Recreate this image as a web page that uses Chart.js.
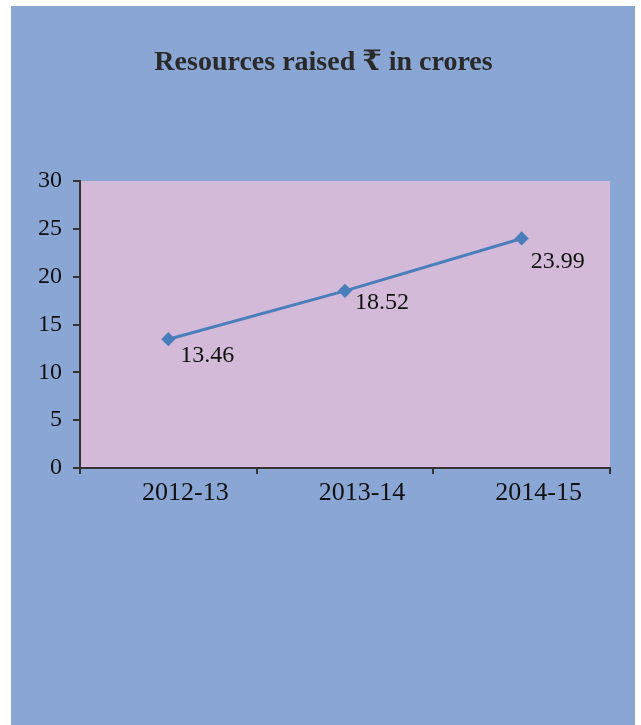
<!DOCTYPE html>
<html>
<head>
<meta charset="utf-8">
<script src="https://cdn.jsdelivr.net/npm/chart.js@4/dist/chart.umd.min.js"></script>
<style>
  html, body { margin: 0; padding: 0; background: #ffffff; }
  canvas { display: block; }
</style>
</head>
<body>
<canvas id="c" width="641" height="725"></canvas>
<script>
const categories = ["2012-13", "2013-14", "2014-15"];
const resourcesRaised = [13.46, 18.52, 23.99];
const yTicks = [0, 5, 10, 15, 20, 25, 30];
const chartTitle = "Resources raised \u20B9 in crores";

const SERIF = "'Liberation Serif', 'DejaVu Serif', serif";

const backgroundPlugin = {
  id: 'panelBg',
  beforeDraw(chart) {
    const ctx = chart.ctx;
    const a = chart.chartArea;
    ctx.save();
    ctx.fillStyle = '#ffffff';
    ctx.fillRect(0, 0, chart.width, chart.height);
    ctx.fillStyle = '#8AA6D4';
    ctx.fillRect(11, 6, 624, chart.height - 6);
    ctx.fillStyle = '#D3BAD8';
    ctx.fillRect(a.left, a.top, a.right - a.left, a.bottom - a.top);
    ctx.restore();
  }
};

const labelPlugin = {
  id: 'pointLabels',
  afterDatasetsDraw(chart) {
    const ctx = chart.ctx;
    const meta = chart.getDatasetMeta(0);
    const offsets = [[12, 16], [10, 12], [9, 23]];
    ctx.save();
    ctx.font = "24px " + SERIF;
    ctx.fillStyle = '#111111';
    ctx.textAlign = 'left';
    ctx.textBaseline = 'middle';
    meta.data.forEach((pt, i) => {
      const o = offsets[i] || [10, 16];
      ctx.fillText(resourcesRaised[i].toFixed(2), pt.x + o[0], pt.y + o[1]);
    });
    ctx.restore();
  }
};

new Chart(document.getElementById('c'), {
  type: 'line',
  data: {
    labels: categories,
    datasets: [{
      label: 'Resources raised',
      data: resourcesRaised,
      borderColor: '#4A7EBB',
      backgroundColor: '#4A7EBB',
      borderWidth: 3,
      pointStyle: 'rectRot',
      pointRadius: 5,
      pointHoverRadius: 5,
      tension: 0
    }]
  },
  options: {
    responsive: false,
    animation: false,
    layout: { padding: { left: 37, right: 31, top: 0, bottom: 0 } },
    plugins: {
      legend: { display: false },
      tooltip: { enabled: false },
      title: {
        display: true,
        text: chartTitle,
        color: '#2a2a2a',
        font: { family: SERIF, size: 28, weight: 'bold', lineHeight: 1 },
        padding: { top: 49, bottom: 104 }
      }
    },
    scales: {
      x: {
        offset: true,
        grid: {
          offset: true,
          drawOnChartArea: false,
          drawTicks: true,
          tickLength: 6,
          color: '#333333',
          lineWidth: 2
        },
        border: { display: true, color: '#333333', width: 2 },
        ticks: {
          color: '#111111',
          padding: 4,
          labelOffset: 17,
          maxRotation: 0,
          font: { family: SERIF, size: 26 }
        },
        afterFit(scale) { scale.height = 257; }
      },
      y: {
        min: 0,
        max: 30,
        afterBuildTicks(scale) { scale.ticks = yTicks.map(v => ({ value: v })); },
        grid: {
          drawOnChartArea: false,
          drawTicks: true,
          tickLength: 7,
          color: '#333333',
          lineWidth: 2
        },
        border: { display: true, color: '#333333', width: 2 },
        ticks: {
          color: '#111111',
          padding: 11,
          font: { family: SERIF, size: 24 }
        },
        afterFit(scale) { scale.width = 43; }
      }
    }
  },
  plugins: [backgroundPlugin, labelPlugin]
});
</script>
</body>
</html>
